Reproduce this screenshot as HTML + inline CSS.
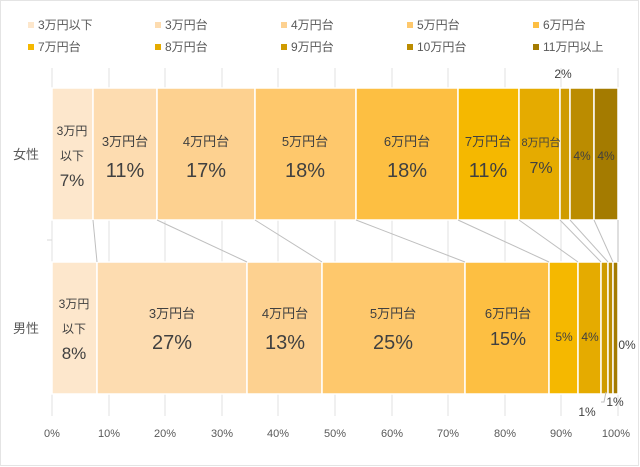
<!DOCTYPE html>
<html><head><meta charset="utf-8"><style>
html,body{margin:0;padding:0;background:#fff}
svg{display:block;font-family:"Liberation Sans","Noto Sans CJK JP",sans-serif}
</style></head><body>
<svg width="640" height="467" viewBox="0 0 640 467" xmlns="http://www.w3.org/2000/svg">
<rect x="0.5" y="0.5" width="638" height="465" fill="#fff" stroke="#e4e4e4"/>
<!-- legend -->
<g font-size="12" fill="#595959">
<rect x="28" y="22" width="6" height="6" fill="#fde7cc"/><text x="38" y="29">3万円以下</text>
<rect x="155" y="22" width="6" height="6" fill="#fddcb0"/><text x="165" y="29">3万円台</text>
<rect x="281" y="22" width="6" height="6" fill="#fdd190"/><text x="291" y="29">4万円台</text>
<rect x="407" y="22" width="6" height="6" fill="#fec86c"/><text x="417" y="29">5万円台</text>
<rect x="533" y="22" width="6" height="6" fill="#fdbf42"/><text x="543" y="29">6万円台</text>
<rect x="28" y="44" width="6" height="6" fill="#f5b800"/><text x="38" y="51">7万円台</text>
<rect x="155" y="44" width="6" height="6" fill="#e5ab00"/><text x="165" y="51">8万円台</text>
<rect x="281" y="44" width="6" height="6" fill="#cf9b00"/><text x="291" y="51">9万円台</text>
<rect x="407" y="44" width="6" height="6" fill="#bb8c00"/><text x="417" y="51">10万円台</text>
<rect x="533" y="44" width="6" height="6" fill="#a47b00"/><text x="543" y="51">11万円以上</text>
</g>
<!-- grid -->
<g stroke="#e0e0e0" stroke-width="1">
<line x1="52" y1="68" x2="52" y2="416"/><line x1="109" y1="68" x2="109" y2="416"/><line x1="165" y1="68" x2="165" y2="416"/><line x1="222" y1="68" x2="222" y2="416"/><line x1="278" y1="68" x2="278" y2="416"/><line x1="335" y1="68" x2="335" y2="416"/><line x1="392" y1="68" x2="392" y2="416"/><line x1="448" y1="68" x2="448" y2="416"/><line x1="505" y1="68" x2="505" y2="416"/><line x1="561" y1="68" x2="561" y2="416"/><line x1="618" y1="68" x2="618" y2="416"/>
</g>
<line x1="47" y1="240" x2="52" y2="240" stroke="#d9d9d9"/>
<!-- female -->
<g stroke="#fff" stroke-width="1.5">
<rect x="52" y="88" width="41" height="132" fill="#fde7cc"/>
<rect x="93" y="88" width="64" height="132" fill="#fddcb0"/>
<rect x="157" y="88" width="98" height="132" fill="#fdd190"/>
<rect x="255" y="88" width="101" height="132" fill="#fec86c"/>
<rect x="356" y="88" width="102" height="132" fill="#fdbf42"/>
<rect x="458" y="88" width="61" height="132" fill="#f5b800"/>
<rect x="519" y="88" width="41" height="132" fill="#e5ab00"/>
<rect x="560" y="88" width="10" height="132" fill="#cf9b00"/>
<rect x="570" y="88" width="24" height="132" fill="#bb8c00"/>
<rect x="594" y="88" width="24" height="132" fill="#a47b00"/>
</g>
<!-- male -->
<g stroke="#fff" stroke-width="1.5">
<rect x="52" y="262" width="45" height="132" fill="#fde7cc"/>
<rect x="97" y="262" width="150" height="132" fill="#fddcb0"/>
<rect x="247" y="262" width="75" height="132" fill="#fdd190"/>
<rect x="322" y="262" width="143" height="132" fill="#fec86c"/>
<rect x="465" y="262" width="84" height="132" fill="#fdbf42"/>
<rect x="549" y="262" width="29" height="132" fill="#f5b800"/>
<rect x="578" y="262" width="23" height="132" fill="#e5ab00"/>
<rect x="601" y="262" width="7" height="132" fill="#cf9b00"/>
<rect x="608" y="262" width="5" height="132" fill="#bb8c00"/>
<rect x="613" y="262" width="5" height="132" fill="#a47b00"/>
</g>
<!-- connectors -->
<g stroke="#bfbfbf" stroke-width="1">
<line x1="93" y1="220" x2="97" y2="262"/><line x1="157" y1="220" x2="247" y2="262"/><line x1="255" y1="220" x2="322" y2="262"/><line x1="356" y1="220" x2="465" y2="262"/><line x1="458" y1="220" x2="549" y2="262"/><line x1="519" y1="220" x2="578" y2="262"/><line x1="560" y1="220" x2="601" y2="262"/><line x1="570" y1="220" x2="608" y2="262"/><line x1="594" y1="220" x2="613" y2="262"/><line x1="618" y1="220" x2="618" y2="262"/>
<polyline points="601,402 604,402 606,392" fill="none"/>
</g>
<!-- labels female -->
<g fill="#404040" text-anchor="middle">
<text x="72" y="135" font-size="12">3万円</text><text x="72" y="160" font-size="12">以下</text><text x="72" y="186" font-size="17">7%</text>
<text x="125" y="146" font-size="13">3万円台</text><text x="125" y="177" font-size="20">11%</text>
<text x="206" y="146" font-size="13">4万円台</text><text x="206" y="177" font-size="20">17%</text>
<text x="305" y="146" font-size="13">5万円台</text><text x="305" y="177" font-size="20">18%</text>
<text x="407" y="146" font-size="13">6万円台</text><text x="407" y="177" font-size="20">18%</text>
<text x="488" y="146" font-size="13">7万円台</text><text x="488" y="177" font-size="20">11%</text>
<text x="541" y="146" font-size="11">8万円台</text><text x="541" y="173" font-size="16">7%</text>
<text x="582" y="160" font-size="12">4%</text><text x="606" y="160" font-size="12">4%</text>
<text x="563" y="78" font-size="12">2%</text>
</g>
<!-- labels male -->
<g fill="#404040" text-anchor="middle">
<text x="74" y="308" font-size="12">3万円</text><text x="74" y="333" font-size="12">以下</text><text x="74" y="359" font-size="17">8%</text>
<text x="172" y="318" font-size="13">3万円台</text><text x="172" y="349" font-size="20">27%</text>
<text x="285" y="318" font-size="13">4万円台</text><text x="285" y="349" font-size="20">13%</text>
<text x="393" y="318" font-size="13">5万円台</text><text x="393" y="349" font-size="20">25%</text>
<text x="508" y="318" font-size="13">6万円台</text><text x="508" y="345" font-size="18">15%</text>
<text x="564" y="341" font-size="12">5%</text><text x="590" y="341" font-size="12">4%</text>
<text x="627" y="349" font-size="12">0%</text>
<text x="587" y="416" font-size="12">1%</text><text x="615" y="406" font-size="12">1%</text>
</g>
<!-- axis -->
<g fill="#595959" font-size="11" text-anchor="middle">
<text x="52" y="437">0%</text><text x="109" y="437">10%</text><text x="165" y="437">20%</text><text x="222" y="437">30%</text><text x="278" y="437">40%</text><text x="335" y="437">50%</text><text x="392" y="437">60%</text><text x="448" y="437">70%</text><text x="505" y="437">80%</text><text x="561" y="437">90%</text><text x="616" y="437">100%</text>
</g>
<g fill="#595959" font-size="13" text-anchor="middle">
<text x="26" y="159">女性</text><text x="26" y="333">男性</text>
</g>
</svg>
</body></html>
